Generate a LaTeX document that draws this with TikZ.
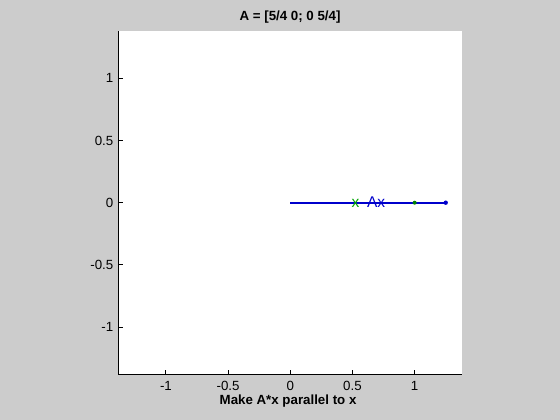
\documentclass[tikz,border=0pt]{standalone}
\usepackage{fontspec}
\setmainfont{Liberation Sans}
\usetikzlibrary{positioning}
\definecolor{figgray}{gray}{0.8}
\definecolor{axblue}{rgb}{0,0,0.8}
\definecolor{xgreen}{rgb}{0,0.65,0}
\definecolor{dotgreen}{rgb}{0,0.5,0}

\begin{document}
\begin{tikzpicture}[
  x=124.35pt, y=124.35pt,
  ticklab/.style={font=\fontsize{13.3}{16}\selectfont, inner sep=0pt},
  boldlab/.style={font=\fontsize{13.3}{16}\selectfont\bfseries, inner sep=0pt},
  veclab/.style={font=\fontsize{15.5}{18}\selectfont, inner sep=0pt, anchor=base},
  axisline/.style={black, line width=1pt}
]
  % figure and axes area
  \fill[figgray] (-2.3345,-1.7475) rectangle (2.1689,1.6301);
  \fill[white] (-1.385,-1.383) rectangle (1.38,1.38);
  \draw[axisline] (-1.385,1.38) -- (-1.385,-1.383) -- (1.38,-1.383);

  % ticks and tick labels
  \foreach \v/\t in {-1/-1,-0.5/-0.5,0/0,0.5/0.5,1/1} {
    \draw[axisline] (\v,-1.383) -- (\v,-1.347);
    \draw[axisline] (-1.385,\v) -- (-1.349,\v);
    \node[ticklab, anchor=base] at (\v,-1.508) {\t};
    \node[ticklab, anchor=base east] at (-1.422,\v-0.037) {\t};
  }

  % vectors
  \coordinate (o) at (0,0);
  \coordinate (xend) at (1,0);
  \coordinate (axend) at (1.25,0);
  \draw[xgreen, line width=2pt] (o) -- (xend);
  \draw[axblue, line width=2pt] (o) -- (axend);
  \fill[axblue] (axend) circle (2.2pt);
  \fill[dotgreen] (xend) circle (2pt);
  \node[veclab, xgreen] (xlab) at (0.524,-0.037) {x};
  \node[veclab, axblue] (axlab) at (0.69,-0.037) {Ax};

  % title and axis label
  \node[boldlab, anchor=base] (title) at (-0.002,1.4636) {A = [5/4 0; 0 5/4]};
  \node[boldlab, anchor=base] (xlabel) at (-0.018,-1.6265) {Make A*x parallel to x};
\end{tikzpicture}
\end{document}
